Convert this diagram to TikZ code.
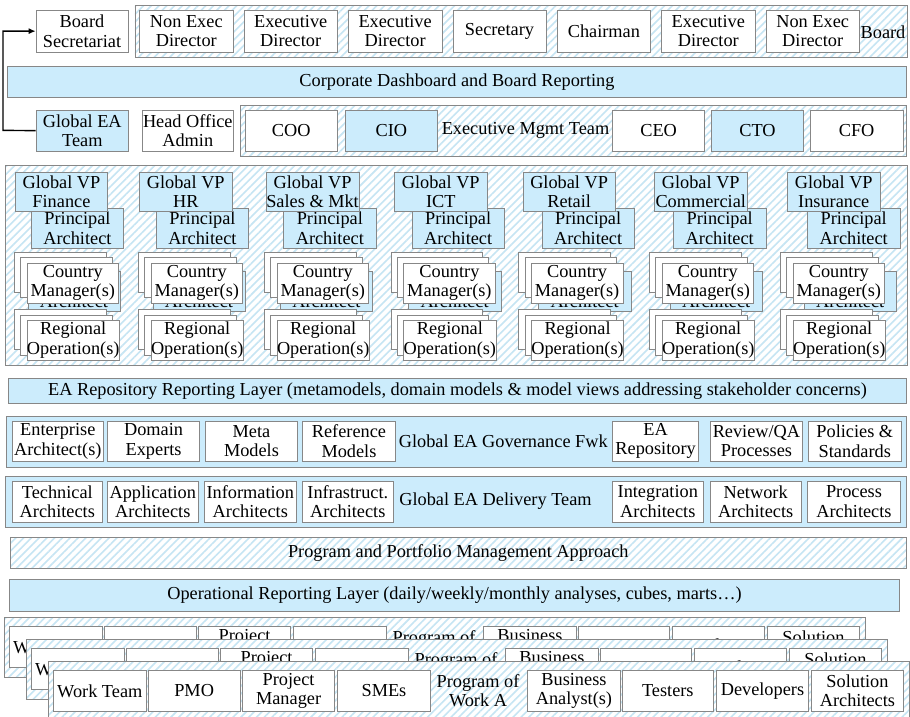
\documentclass[tikz,border=0pt]{standalone}
\usepackage{fontspec}
\setmainfont{Liberation Serif}
\usetikzlibrary{patterns.meta,arrows.meta}
\definecolor{lblue}{RGB}{204,236,252}
\definecolor{hatchc}{RGB}{198,229,243}
\definecolor{bgray}{RGB}{135,135,135}
\newcommand\fs{\fontsize{18.3}{19.5}\selectfont}
\newcommand\bx[7][box]{\node[#1, anchor=north west, minimum width=#5pt, minimum height=#6pt] (#2) at (#3,#4) {#7};}
\newcommand\worklayer[1]{%
 \node[hatch, anchor=north west, minimum width=861pt, minimum height=60pt] (#1fr) at (48.3,661) {};
 \bx{#1wt}{53.3}{670}{92.4}{41}{Work Team}
 \bx{#1pmo}{147.7}{670}{92.3}{41}{PMO}
 \bx{#1pm}{242.3}{670}{92}{41}{Project\\Manager}
 \bx{#1sme}{337.3}{670}{92.7}{41}{SMEs}
 \node[lbl] (#1prog) at (478,690.5) {Program of\\Work A};
 \bx{#1ba}{527.3}{670}{92.7}{41}{Business\\Analyst(s)}
 \bx{#1tst}{621.7}{670}{91.6}{41}{Testers}
 \bx{#1dev}{716}{670}{92.3}{41}{Developers}
 \bx{#1sa}{811}{670}{92.3}{41}{Solution\\Architects}
}
\begin{document}
\begin{tikzpicture}[x=1pt,y=-1pt,
  box/.style={draw=bgray, line width=0.6pt, fill=white, inner sep=0pt, align=center, font=\fs},
  bbox/.style={box, fill=lblue},
  hatch/.style={draw=bgray, line width=0.6pt, inner sep=0pt, preaction={fill=white},
     pattern={Lines[angle=45,distance=5.5pt,line width=1.6pt]}, pattern color=hatchc},
  lbl/.style={inner sep=0pt, align=center, font=\fs},
  conn/.style={line width=1.4pt, -{Latex[length=7pt,width=6pt]}}]
\useasboundingbox (0,0) rectangle (910,717);
\fill[white] (0,0) rectangle (910,717);

% ---------- Board ----------
\node[hatch, anchor=north west, minimum width=772pt, minimum height=51.7pt] (boardc) at (134,5) {};
\bx{bsec}{35.7}{10}{92}{41.7}{Board\\Secretariat}
\bx{b1}{139.3}{10}{93.4}{41.7}{Non Exec\\Director}
\bx{b2}{243.7}{10}{93.4}{41.7}{Executive\\Director}
\bx{b3}{348.1}{10}{93.4}{41.7}{Executive\\Director}
\bx{b4}{452.5}{10}{93.4}{41.7}{Secretary}
\bx{b5}{556.9}{10}{93.4}{41.7}{Chairman}
\bx{b6}{661.3}{10}{93.4}{41.7}{Executive\\Director}
\bx{b7}{765.7}{10}{93.4}{41.7}{Non Exec\\Director}
\node[lbl] (boardlbl) at (883,32) {Board};

\bx[bbox]{dash}{7.3}{66}{898.7}{31.3}{Corporate Dashboard and Board Reporting}

% ---------- Executive ----------
\bx[bbox]{gea}{35.7}{110}{92.6}{40.7}{Global EA\\Team}
\bx{hoa}{141.7}{110}{91.6}{40.7}{Head Office\\Admin}
\node[hatch, anchor=north west, minimum width=666pt, minimum height=50.7pt] (execc) at (240,105) {};
\bx{coo}{245}{110}{91.7}{41}{COO}
\bx[bbox]{cio}{345}{110}{92.3}{41}{CIO}
\node[lbl] (execlbl) at (525.5,130.5) {Executive Mgmt Team};
\bx{ceo}{612.3}{110}{92}{41}{CEO}
\bx[bbox]{cto}{711}{110}{92.3}{41}{CTO}
\bx{cfo}{810}{110}{92.7}{41}{CFO}

\draw[conn] (gea.west) -- (3,130.35) |- (bsec.west);

% ---------- VP grid ----------
\node[hatch, anchor=north west, minimum width=902pt, minimum height=200pt] (vpc) at (5,165) {};
\foreach \i/\vp/\pa/\f/\nm in {1/15/31/26.7/Finance, 2/139.3/156/150.7/HR,
   3/266/283.4/276.7/Sales \& Mkt, 4/394.3/411.7/403.3/ICT, 5/522.7/541.7/531/Retail,
   6/654.3/673.3/661.7/Commercial, 7/787.3/807.3/792.7/Insurance}{
  \bx[bbox]{pa\i}{\pa}{207.7}{92.3}{40.6}{Principal\\Architect}
  \bx[bbox]{vp\i}{\vp}{171.7}{92.3}{39.3}{Global VP\\\nm}
  \bx{cma\i}{\f-12.7}{251.7}{91.6}{40.3}{}
  \bx{cmb\i}{\f-6.5}{257}{91.6}{40.3}{}
  \bx[bbox]{pah\i}{\pa-3.5}{270.5}{92.3}{40.6}{Principal\\Architect}
  \bx{cm\i}{\f}{262.5}{91.6}{40.3}{Country\\Manager(s)}
  \bx{roa\i}{\f-12.7}{309.3}{91.6}{40}{}
  \bx{rob\i}{\f-6.5}{314.5}{91.6}{40}{}
  \bx{ro\i}{\f}{320}{91.6}{40}{Regional\\Operation(s)}
}

% ---------- EA layers ----------
\bx[bbox]{earep}{8.3}{378.3}{897.7}{25}{EA Repository Reporting Layer (metamodels, domain models \& model views addressing stakeholder concerns)}

\bx[bbox]{govc}{6}{415.7}{900}{51}{}
\bx{g1}{11.7}{420.7}{91.6}{40.3}{Enterprise\\Architect(s)}
\bx{g2}{107.3}{420.7}{92}{40.3}{Domain\\Experts}
\bx{g3}{205}{420.7}{92.3}{40.3}{Meta\\Models}
\bx{g4}{302.3}{420.7}{92.7}{40.3}{Reference\\Models}
\node[lbl] (govlbl) at (503.3,441) {Global EA Governance Fwk};
\bx{g5}{612.3}{420.7}{86}{40.3}{EA\\Repository}
\bx{g6}{710}{420.7}{92.3}{40.3}{Review/QA\\Processes}
\bx{g7}{808.3}{420.7}{92.4}{40.3}{Policies \&\\Standards}

\bx[bbox]{delc}{5}{476}{901}{50.7}{}
\bx{d1}{11.7}{481}{90.6}{40.7}{Technical\\Architects}
\bx{d2}{106.7}{481}{91.6}{40.7}{Application\\Architects}
\bx{d3}{204}{481}{92}{40.7}{Information\\Architects}
\bx{d4}{301.7}{481}{91.6}{40.7}{Infrastruct.\\Architects}
\node[lbl] (dellbl) at (495.5,501.3) {Global EA Delivery Team};
\bx{d5}{611.7}{481}{91.6}{40.7}{Integration\\Architects}
\bx{d6}{710}{481}{90.7}{40.7}{Network\\Architects}
\bx{d7}{807.3}{481}{92.7}{40.7}{Process\\Architects}

\node[hatch, anchor=north west, minimum width=896pt, minimum height=31.6pt, font=\fs] (ppm) at (10,536.7) {Program and Portfolio Management Approach};

\bx[bbox]{opr}{9}{579.3}{890.3}{31.4}{Operational Reporting Layer (daily/weekly/monthly analyses, cubes, marts…)}

% ---------- Work layers ----------
\begin{scope}[shift={(-44,-44)}]\worklayer{wa}\end{scope}
\begin{scope}[shift={(-22,-22)}]\worklayer{wb}\end{scope}
\worklayer{wc}
\end{tikzpicture}
\end{document}
